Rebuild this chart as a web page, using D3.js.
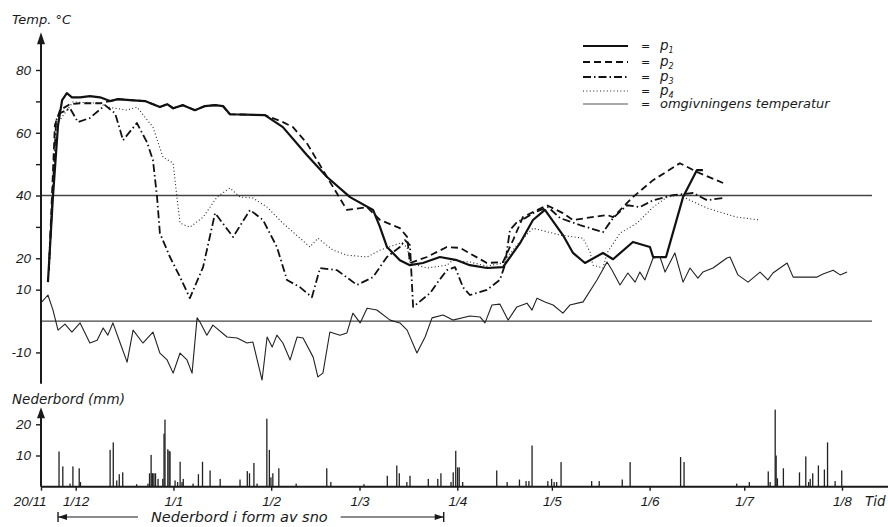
<!DOCTYPE html>
<html>
<head>
<meta charset="utf-8">
<script src="https://cdn.jsdelivr.net/npm/d3@7"></script>
<style>
body { margin: 0; background: #fff; }
svg { display: block; font-family: "DejaVu Sans", "Liberation Sans", sans-serif; font-style: oblique; }
</style>
</head>
<body>
<svg id="chart" width="888" height="527"></svg>
<script>
// days counted from 20/11
const monthLabels = ["20/11", "1/12", "1/1", "1/2", "1/3", "1/4", "1/5", "1/6", "1/7", "1/8"];
const monthDays = [0, 11, 42, 73, 101, 132, 162, 193, 223, 254];
const tempLabelled = [80, 60, 40, 20, 10, -10];
const tempMinor = [70, 50, 30];
const rainTicks = [10, 20];
const refTemps = [40, 0];
const snowPeriod = [5.4, 127.7];

// [day, temp °C]
const p1 = [[2.2,12.4],[3.8,39.8],[5.4,62.4],[6.7,70.4],[8.2,72.6],[9.8,71.3],[12.4,71.3],[15.5,71.7],
  [18.7,71.3],[21.9,70.1],[24.4,70.7],[28.2,70.4],[33.0,70.1],[35.5,69.1],[37.7,68.2],[40.0,69.1],
  [41.9,67.8],[45.0,68.8],[48.8,67.2],[52.0,68.5],[55.2,68.8],[57.7,68.5],[59.9,65.9],[71.0,65.6],
  [76.7,61.8],[84.3,52.9],[90.7,45.9],[98.0,39.5],[105.3,35.4],[107.5,29.9],[109.7,23.6],[113.8,19.4],
  [117.0,17.8],[121.1,18.5],[126.5,20.4],[131.9,19.4],[136.0,17.8],[141.4,16.9],[146.5,17.2],[151.9,24.8],
  [156.0,32.2],[159.8,35.4],[165.5,27.4],[168.7,21.7],[172.5,18.5],[178.2,21.7],[181.4,19.7],[187.7,25.2],
  [193.1,23.6],[194.1,20.4],[198.2,20.4],[203.6,39.5],[208.0,48.1],[209.9,48.1]];

const p2 = [[2.5,16.2],[4.4,62.4],[6.0,67.2],[9.2,69.1],[12.4,69.4],[18.7,69.4],[21.9,70.1],[24.4,70.7],
  [28.2,70.4],[33.0,70.1],[35.5,69.1],[37.7,68.2],[40.0,69.1],[41.9,67.8],[45.0,68.8],[48.8,67.2],
  [52.0,68.5],[55.2,68.8],[57.7,68.5],[59.9,65.9],[71.0,65.6],[76.7,63.4],[79.9,61.8],[84.3,56.7],
  [90.7,45.9],[97.0,35.4],[103.4,36.3],[107.5,32.2],[113.8,29.6],[116.1,26.8],[117.0,18.5],[122.4,20.4],
  [128.7,23.6],[132.9,23.3],[141.4,18.5],[146.5,18.8],[149.7,25.8],[152.8,33.1],[156.0,34.7],[160.4,36.9],
  [165.5,34.4],[168.7,32.2],[179.5,33.8],[181.4,33.1],[187.7,39.5],[194.1,44.9],[202.6,50.3],[208.0,47.5],
  [216.3,44.0]];

const p3 = [[2.5,16.2],[4.8,64.0],[6.0,66.2],[9.2,67.8],[11.7,63.4],[15.5,64.7],[20.3,68.8],[23.5,66.2],
  [25.1,60.8],[26.0,57.6],[30.4,63.1],[33.6,57.0],[35.5,51.3],[36.8,39.5],[37.7,28.0],[40.9,20.4],
  [44.1,14.0],[47.2,7.3],[51.4,17.2],[55.2,34.4],[60.9,26.8],[66.3,35.4],[70.4,32.2],[74.8,23.6],
  [78.0,13.1],[82.1,10.8],[85.9,7.6],[88.5,16.9],[93.9,16.2],[100.2,11.5],[105.3,14.0],[109.7,20.4],
  [113.8,23.6],[115.4,25.8],[117.0,24.2],[118.0,4.5],[123.4,8.9],[125.6,12.1],[128.7,16.2],[131.3,17.2],
  [133.8,10.8],[136.0,8.3],[141.4,9.9],[145.5,13.1],[147.1,17.8],[148.7,29.0],[150.9,31.5],[153.5,32.8],
  [156.6,34.7],[160.8,36.3],[164.6,32.8],[170.9,30.6],[178.2,28.3],[181.4,32.8],[185.8,36.9],[189.9,36.3],
  [194.1,38.5],[200.4,40.1],[206.8,40.8],[211.2,38.5],[216.3,39.2]];

const p4 = [[2.5,16.2],[4.8,62.4],[10.1,69.8],[18.7,69.4],[20.9,68.2],[27.3,67.2],[30.4,68.2],[35.5,61.8],
  [38.7,52.2],[41.9,50.3],[43.1,39.5],[44.1,31.2],[47.2,29.9],[51.4,33.1],[55.8,39.5],[59.9,42.4],
  [63.1,39.5],[67.2,39.2],[71.7,36.3],[76.7,31.2],[85.3,23.6],[87.8,26.4],[92.6,22.6],[97.0,21.0],
  [103.4,20.4],[107.5,22.6],[113.8,24.8],[116.1,23.6],[117.0,18.5],[122.4,16.9],[128.7,17.8],[130.6,19.4],
  [136.0,18.8],[141.4,17.5],[146.5,18.5],[150.9,24.2],[156.0,29.6],[164.6,27.4],[171.9,26.4],[174.1,22.0],
  [175.0,17.8],[178.2,16.9],[179.5,21.7],[183.6,28.0],[189.0,31.2],[194.1,36.3],[198.5,39.5],[202.6,40.1],
  [205.8,38.5],[211.2,36.0],[216.3,34.4],[220.7,33.1],[228.0,32.2]];

const ambient = [[0.3,6.1],[2.2,8.3],[3.8,3.5],[5.4,-2.9],[7.6,-1.0],[9.8,-3.5],[12.4,-0.6],[15.5,-7.0],
  [17.8,-6.1],[19.7,-2.2],[21.2,-4.5],[22.8,-0.6],[25.1,-7.0],[27.3,-13.1],[29.2,-2.9],[32.3,-7.0],
  [35.5,-3.5],[37.7,-10.2],[40.0,-12.4],[41.9,-16.6],[44.1,-10.2],[46.3,-12.4],[47.9,-16.6],[49.5,1.0],
  [50.4,-0.3],[52.6,-4.5],[54.5,-1.3],[59.0,-5.1],[62.2,-5.4],[65.3,-7.0],[67.2,-6.7],[70.1,-18.8],
  [71.7,-5.1],[73.3,-8.3],[74.8,-4.5],[76.7,-7.0],[79.0,-12.4],[81.2,-5.1],[83.1,-5.4],[86.3,-11.5],
  [87.8,-17.8],[89.4,-16.6],[91.6,-3.5],[94.8,-4.5],[97.0,-3.8],[98.9,2.5],[101.2,-0.6],[103.4,4.1],
  [106.5,3.5],[110.7,0.3],[113.8,-0.6],[116.1,-2.9],[119.2,-10.2],[121.8,-5.1],[124.0,1.0],[127.5,1.9],
  [130.6,0.3],[136.0,1.6],[139.2,1.3],[140.8,-0.6],[143.0,5.1],[145.5,5.4],[148.1,0.3],[150.9,4.5],
  [154.1,5.7],[155.7,3.5],[157.3,7.3],[159.8,6.1],[162.4,5.1],[165.5,2.5],[167.7,5.1],[171.9,6.1],
  [176.3,13.1],[179.5,18.8],[181.1,16.2],[183.6,11.5],[186.1,15.3],[188.4,12.4],[189.9,15.6],[191.5,13.1],
  [194.1,20.1],[196.3,20.4],[197.9,15.6],[201.0,21.7],[203.6,12.4],[205.8,16.9],[208.3,13.7],[209.9,15.6],
  [213.1,16.9],[217.5,20.1],[218.5,20.4],[221.0,14.7],[224.2,12.4],[228.0,15.6],[230.5,13.1],[232.1,15.3],
  [236.6,18.5],[238.5,14.0],[242.9,14.0],[246.1,14.0],[248.0,15.0],[251.2,16.2],[253.4,14.7],[255.6,15.6]];

// [day, mm]
const rain = [[5.7,11.3],[6.9,6.5],[9.2,1],[10.1,6.5],[12.1,5.9],[12.5,1.5],[21.9,11.8],[22.9,14.2],
  [24.0,2],[24.8,4],[25.9,4.6],[30.3,0.8],[33.9,1],[34.4,4.3],[34.9,10.2],[35.2,4.3],[35.4,4.3],[35.8,4.3],
  [36.3,4.3],[37.1,2.5],[38.6,2.5],[39.0,17],[39.3,21.5],[40.2,12],[40.6,11.5],[40.9,11.3],[42.5,2],
  [43.3,1.5],[44.1,8],[44.7,1.5],[45.1,2.5],[48.2,1],[49.9,4],[51.2,8],[53.6,5.2],[56.8,2.5],[63.1,2.3],
  [65.4,5],[66.1,4.3],[67.5,7.6],[68.5,1],[71.6,21.8],[72.4,11.8],[72.9,3],[73.5,4.3],[75.4,5.9],[80.9,1],
  [90.6,5.9],[91.9,1.5],[102.4,0.8],[109.8,3.5],[112.8,6.8],[113.6,4.3],[116.0,1.5],[117.0,3.5],[122.8,2.5],
  [125.8,2.5],[126.8,4.3],[130.0,1.5],[130.7,4.6],[131.5,11.5],[132.1,6.2],[132.6,6.2],[133.7,1.5],
  [144.5,5.2],[147.8,1.5],[151.7,2.3],[153.8,1.8],[154.7,1.8],[155.7,13.2],[160.7,1.8],[161.9,2.5],
  [162.7,1.5],[163.5,1.5],[164.9,7.9],[174.6,1.8],[177.0,1.8],[184.3,2.3],[186.8,7.9],[202.8,9.5],
  [203.9,7.9],[220.6,1],[224.6,1.5],[230.6,4.9],[231.2,1.5],[232.8,24.7],[233.1,10],[233.5,2.7],
  [235.4,5.9],[240.5,4.6],[242.5,9.7],[243.4,1.5],[243.9,2.5],[244.7,4.3],[246.5,6.8],[248.4,5.5],
  [249.4,14.2],[251.8,1.8],[253.9,5.2]];

const series = [
  { key: "p1", data: p1, width: 2.2, dash: null, color: "#111", sub: "1", label: "p" },
  { key: "p2", data: p2, width: 1.8, dash: "7,4", color: "#111", sub: "2", label: "p" },
  { key: "p3", data: p3, width: 1.8, dash: "8,3,1.5,3", color: "#111", sub: "3", label: "p" },
  { key: "p4", data: p4, width: 1.1, dash: "1,2.4", color: "#222", sub: "4", label: "p" },
  { key: "amb", data: ambient, width: 1.1, dash: null, color: "#222", sub: "", label: "omgivningens temperatur" }
];

const svg = d3.select("#chart");
svg.append("rect").attr("width", 888).attr("height", 527).attr("fill", "#fff");

const x = d3.scaleLinear().domain([0, 254]).range([41, 842]);
const yT = d3.scaleLinear().domain([-20, 80]).range([383.8, 70]);
const yR = d3.scaleLinear().domain([0, 20]).range([486.7, 424.3]);

const ink = "#1a1a1a";

// reference lines at 40 and 0 °C
svg.selectAll(".ref").data(refTemps).join("line")
  .attr("x1", x(0)).attr("x2", x(263.5))
  .attr("y1", d => yT(d)).attr("y2", d => yT(d))
  .attr("stroke", "#444").attr("stroke-width", 1.3);

// temperature axis
const yAxis = d3.axisLeft(yT)
  .tickValues(tempLabelled.concat(tempMinor))
  .tickSize(5).tickPadding(5)
  .tickFormat(d => tempLabelled.includes(d) ? String(d) : "");
const gy = svg.append("g").attr("transform", `translate(${x(0)},0)`).call(yAxis);
gy.select(".domain").remove();
gy.selectAll("line").attr("stroke", ink).attr("stroke-width", 1.4);
gy.selectAll("text").attr("font-size", 13.5).attr("font-family", null).attr("fill", ink);
svg.append("line").attr("x1", x(0)).attr("x2", x(0))
  .attr("y1", yT(-20)).attr("y2", yT(90))
  .attr("stroke", ink).attr("stroke-width", 2);
svg.append("path")
  .attr("d", `M${x(0)},${yT(92)} l-4,12 l8,0 z`).attr("fill", ink);
svg.append("text").attr("x", 12).attr("y", 24).attr("font-size", 13).attr("fill", ink)
  .text("Temp. °C");

// temperature lines
const line = d3.line().x(d => x(d[0])).y(d => yT(d[1]));
svg.selectAll(".series").data(series).join("path")
  .attr("d", d => line(d.data))
  .attr("fill", "none")
  .attr("stroke", d => d.color)
  .attr("stroke-width", d => d.width)
  .attr("stroke-dasharray", d => d.dash)
  .attr("stroke-linejoin", "round");

// legend
const legend = svg.append("g").attr("transform", "translate(583,46)");
const item = legend.selectAll("g").data(series).join("g")
  .attr("transform", (d, i) => `translate(0,${[0, 16, 31, 45, 58][i]})`);
item.append("line").attr("x1", 0).attr("x2", 45)
  .attr("stroke", d => d.key === "amb" ? "#555" : d.color)
  .attr("stroke-width", d => d.key === "amb" ? 1.1 : d.width)
  .attr("stroke-dasharray", d => d.dash);
item.append("text").attr("x", 58).attr("y", 4).attr("font-size", 11).attr("fill", ink).text("=");
const lt = item.append("text").attr("x", 77).attr("y", 4).attr("fill", ink)
  .attr("font-size", d => d.key === "amb" ? 13 : 13.5);
lt.append("tspan").text(d => d.label);
lt.append("tspan").attr("font-size", 8).attr("dy", 2.5).text(d => d.sub);

// precipitation panel
svg.append("text").attr("x", 12).attr("y", 404).attr("font-size", 13.5).attr("fill", ink)
  .text("Nederbord (mm)");
const rAxis = d3.axisLeft(yR).tickValues(rainTicks).tickSize(5).tickPadding(5);
const gr = svg.append("g").attr("transform", `translate(${x(0)},0)`).call(rAxis);
gr.select(".domain").remove();
gr.selectAll("line").attr("stroke", ink).attr("stroke-width", 1.4);
gr.selectAll("text").attr("font-size", 13.5).attr("font-family", null).attr("fill", ink);
svg.append("line").attr("x1", x(0)).attr("x2", x(0))
  .attr("y1", yR(0)).attr("y2", yR(24))
  .attr("stroke", ink).attr("stroke-width", 2);
svg.append("path")
  .attr("d", `M${x(0)},${yR(25.5)} l-4,11 l8,0 z`).attr("fill", ink);

svg.selectAll(".bar").data(rain).join("rect")
  .attr("x", d => x(d[0]) - 0.6)
  .attr("width", 1.3)
  .attr("y", d => yR(d[1]))
  .attr("height", d => yR(0) - yR(d[1]))
  .attr("fill", "#222");

// time axis
const xAxis = d3.axisBottom(x).tickValues(monthDays)
  .tickSize(4).tickPadding(6)
  .tickFormat((d, i) => monthLabels[i]);
const gx = svg.append("g").attr("transform", `translate(0,${yR(0)})`).call(xAxis);
gx.select(".domain").remove();
gx.selectAll("line").attr("stroke", ink).attr("stroke-width", 1.4);
gx.selectAll("text").attr("font-size", 13.5).attr("font-family", null).attr("fill", ink);
gx.select(".tick text").attr("text-anchor", "end").attr("x", 5);
svg.append("line").attr("x1", x(0)).attr("x2", x(270))
  .attr("y1", yR(0)).attr("y2", yR(0))
  .attr("stroke", ink).attr("stroke-width", 2);
svg.append("path")
  .attr("d", `M${x(273.5)},${yR(0)} l-12,-4 l0,8 z`).attr("fill", ink);
svg.append("text").attr("x", 865).attr("y", 506).attr("font-size", 13.5).attr("fill", ink).text("Tid");

// snow period marker
const sy = 517;
const sx0 = x(snowPeriod[0]), sx1 = x(snowPeriod[1]);
const snow = svg.append("g");
snow.append("line").attr("x1", sx0).attr("x2", sx0 + 80).attr("y1", sy).attr("y2", sy)
  .attr("stroke", ink).attr("stroke-width", 1.2);
snow.append("line").attr("x1", sx1 - 103).attr("x2", sx1).attr("y1", sy).attr("y2", sy)
  .attr("stroke", ink).attr("stroke-width", 1.2);
snow.append("path").attr("d", `M${sx0},${sy - 5}v10M${sx1},${sy - 5}v10`)
  .attr("stroke", ink).attr("stroke-width", 1.4);
snow.append("path").attr("d", `M${sx0},${sy} l9,-3 l0,6 z M${sx1},${sy} l-9,-3 l0,6 z`).attr("fill", ink);
snow.append("text").attr("x", (sx0 + 80 + sx1 - 103) / 2).attr("y", sy + 5)
  .attr("text-anchor", "middle").attr("font-size", 14.5).attr("fill", ink)
  .text("Nederbord i form av sno");
</script>
</body>
</html>
